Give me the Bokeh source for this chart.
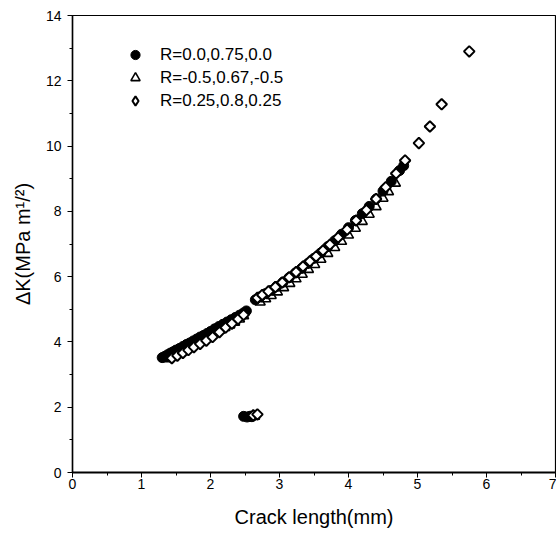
import numpy as np
from bokeh.plotting import figure
from bokeh.models import Legend, LegendItem, FixedTicker
from bokeh.embed import file_html
from bokeh.resources import INLINE

# R=0.0,0.75,0.0 (filled circles)
circ_x = [1.30, 1.34, 1.38, 1.42, 1.46, 1.50, 1.55, 1.60, 1.65, 1.70, 1.75, 1.80, 1.85, 1.90,
          1.95, 2.00, 2.06, 2.12, 2.18, 2.24, 2.30, 2.36, 2.42, 2.48, 2.52,
          2.65, 2.72, 2.80, 2.88, 2.96, 3.05, 3.14, 3.23, 3.32, 3.41, 3.50, 3.60, 3.70, 3.80,
          3.90, 4.00, 4.10, 4.20, 4.30, 4.40, 4.50, 4.62, 4.74, 4.80,
          2.48, 2.53, 2.57, 2.60]
circ_y = [3.52, 3.56, 3.61, 3.66, 3.70, 3.75, 3.80, 3.86, 3.92, 3.97, 4.03, 4.09, 4.15, 4.20,
          4.26, 4.32, 4.40, 4.47, 4.54, 4.61, 4.68, 4.75, 4.82, 4.89, 4.95,
          5.29, 5.38, 5.48, 5.58, 5.70, 5.83, 5.97, 6.11, 6.25, 6.40, 6.56, 6.73, 6.92, 7.10,
          7.30, 7.50, 7.72, 7.93, 8.15, 8.38, 8.62, 8.92, 9.25, 9.40,
          1.72, 1.70, 1.72, 1.71]

# R=-0.5,0.67,-0.5 (open triangles)
tri_x = [1.36, 1.41, 1.46, 1.52, 1.58, 1.64, 1.70, 1.76, 1.82, 1.88, 1.94, 2.00, 2.07, 2.14,
         2.21, 2.28, 2.35, 2.42, 2.48,
         2.72, 2.80, 2.88, 2.97, 3.06, 3.15, 3.24, 3.33, 3.42, 3.51, 3.60, 3.70, 3.80, 3.90,
         4.00, 4.10, 4.20, 4.30, 4.40, 4.50, 4.58, 4.68,
         2.58, 2.64]
tri_y = [3.48, 3.54, 3.60, 3.66, 3.72, 3.79, 3.86, 3.93, 4.00, 4.06, 4.13, 4.20, 4.28, 4.36,
         4.44, 4.52, 4.60, 4.70, 4.80,
         5.22, 5.32, 5.42, 5.53, 5.66, 5.79, 5.93, 6.07, 6.22, 6.37, 6.53, 6.71, 6.89, 7.08,
         7.27, 7.48, 7.69, 7.91, 8.14, 8.40, 8.60, 8.86,
         1.70, 1.72]

# R=0.25,0.8,0.25 (open diamonds)
dia_x = [1.44, 1.52, 1.60, 1.68, 1.76, 1.85, 1.94, 2.03, 2.13, 2.22, 2.31, 2.40, 2.48,
         2.68, 2.75, 2.84, 2.94, 3.04, 3.14, 3.24, 3.34, 3.44, 3.53, 3.63, 3.73, 3.85, 3.98,
         4.11, 4.26, 4.40, 4.54, 4.69, 4.82, 5.02, 5.18, 5.35, 5.75,
         2.62, 2.68]
dia_y = [3.50, 3.58, 3.66, 3.75, 3.84, 3.94, 4.04, 4.15, 4.30, 4.44, 4.56, 4.70, 4.83,
         5.35, 5.44, 5.55, 5.68, 5.82, 5.98, 6.14, 6.31, 6.47, 6.62, 6.80, 6.98, 7.20, 7.44,
         7.72, 8.04, 8.38, 8.74, 9.16, 9.56, 10.09, 10.60, 11.28, 12.90,
         1.75, 1.78]

labels = ["R=0.0,0.75,0.0", "R=-0.5,0.67,-0.5", "R=0.25,0.8,0.25"]
x_ticks = [0, 1, 2, 3, 4, 5, 6, 7]
y_ticks = [0, 2, 4, 6, 8, 10, 12, 14]

FONT = "Liberation Sans"

p = figure(width=556, height=536, x_range=(0, 7), y_range=(0, 14),
           output_backend="svg", toolbar_location=None,
           min_border_left=72, min_border_right=1, min_border_top=15, min_border_bottom=64)
p.background_fill_color = "white"
p.border_fill_color = "white"
p.grid.visible = False
p.outline_line_color = "black"
p.outline_line_width = 1.2

r_tri = p.scatter(tri_x, tri_y, marker="triangle", size=10,
                  fill_color="white", line_color="black", line_width=1.6)
r_circ = p.scatter(circ_x, circ_y, marker="circle", size=10,
                   fill_color="black", line_color="black", line_width=1)
# diamond glyph (used for the legend symbol), hidden under the rotated squares
r_dia_leg = p.scatter(dia_x, dia_y, marker="diamond", size=8,
                      fill_color="white", line_color="black", line_width=2)
r_dia = p.scatter(dia_x, dia_y, marker="square", angle=np.pi / 4, size=7.5,
                  fill_color="white", line_color="black", line_width=2)

legend = Legend(items=[LegendItem(label=labels[0], renderers=[r_circ]),
                       LegendItem(label=labels[1], renderers=[r_tri]),
                       LegendItem(label=labels[2], renderers=[r_dia_leg])],
                location=(49, 360), border_line_color=None, background_fill_alpha=0,
                padding=0, margin=0, spacing=0, glyph_width=28, glyph_height=23,
                label_height=23, label_standoff=11,
                label_text_font=FONT, label_text_font_size="17px", label_text_color="black")
p.add_layout(legend, "center")

for ax in (p.xaxis[0], p.yaxis[0]):
    ax.major_label_text_font = FONT
    ax.major_label_text_font_size = "14px"
    ax.major_label_text_color = "black"
    ax.axis_label_text_font = FONT
    ax.axis_label_text_font_size = "20px"
    ax.axis_label_text_font_style = "normal"
    ax.axis_label_text_color = "black"
    ax.axis_line_color = "black"
    ax.major_tick_line_color = "black"
    ax.minor_tick_line_color = "black"
    ax.major_tick_in = 0
    ax.major_tick_out = 5
    ax.minor_tick_in = 0
    ax.minor_tick_out = 3

p.xaxis.ticker = FixedTicker(ticks=x_ticks, minor_ticks=[v + 0.5 for v in x_ticks[:-1]])
p.yaxis.ticker = FixedTicker(ticks=y_ticks, minor_ticks=[v + 1 for v in y_ticks[:-1]])
p.xaxis.axis_line_width = 2
p.yaxis.axis_line_width = 1.5
p.xaxis.major_label_standoff = 1
p.yaxis.major_label_standoff = 6
p.xaxis.axis_label = "Crack length(mm)"
p.yaxis.axis_label = "ΔK(MPa m¹/²)"
p.xaxis.axis_label_standoff = 14
p.yaxis.axis_label_standoff = 9

open("out.html", "w").write(file_html(p, INLINE))
